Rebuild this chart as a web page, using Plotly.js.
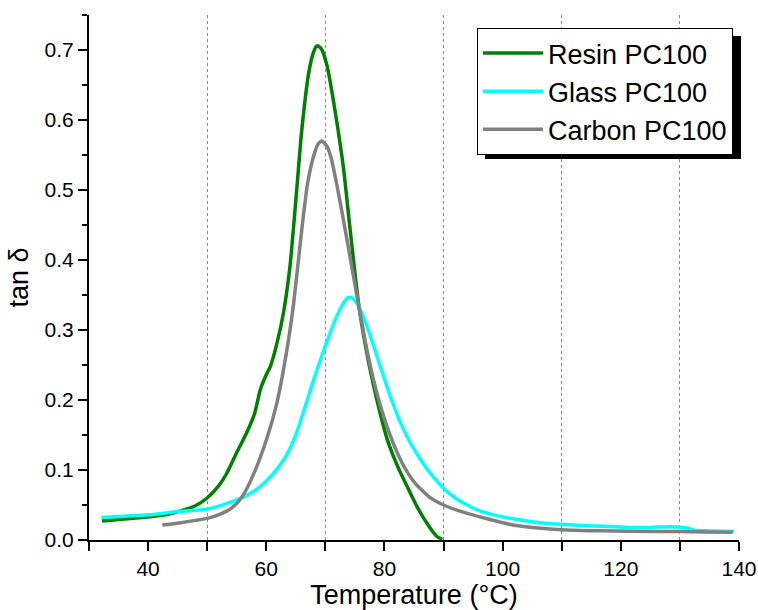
<!DOCTYPE html>
<html>
<head>
<meta charset="utf-8">
<script src="https://cdn.plot.ly/plotly-3.0.1.min.js"></script>
<style>html,body{margin:0;padding:0;background:#fff;}</style>
</head>
<body>
<div id="chart" style="width:758px;height:610px;"></div>
<script>
const seriesNames = ["Resin PC100", "Glass PC100", "Carbon PC100"];

const resinT = [32.2, 36, 40, 43, 46, 48, 50, 52, 53.3, 55, 56.5, 58, 59, 60, 60.7, 61.8, 62.9, 64, 65, 66, 67.2, 68, 68.6, 69.3, 70.3, 71.7, 73.1, 74.2, 75.6, 76.8, 78.2, 79.3, 80.5, 81.5, 82.5, 83.3, 84.5, 85.5, 86.3, 87.2, 88, 88.9, 89.8];
const resinY = [0.027, 0.030, 0.033, 0.036, 0.043, 0.049, 0.060, 0.078, 0.095, 0.125, 0.150, 0.180, 0.215, 0.236, 0.248, 0.281, 0.324, 0.390, 0.485, 0.585, 0.668, 0.697, 0.706, 0.702, 0.677, 0.610, 0.529, 0.443, 0.339, 0.277, 0.219, 0.180, 0.143, 0.120, 0.100, 0.086, 0.065, 0.048, 0.036, 0.024, 0.014, 0.005, 0.001];

const glassT = [32.1, 36, 40.1, 45.4, 49.9, 53.3, 56, 58, 60, 62, 63.5, 65, 66.5, 68, 69.5, 71, 72.3, 73.2, 73.8, 74.5, 75.3, 76.5, 78, 79.5, 81, 82.5, 84, 85.5, 87, 88.5, 90, 92, 94, 96, 98, 100, 102, 106, 110.4, 115, 118.9, 122, 125, 128.5, 130.5, 131.3, 132.4, 135, 139.2];
const glassY = [0.032, 0.034, 0.036, 0.041, 0.044, 0.052, 0.061, 0.070, 0.084, 0.103, 0.122, 0.150, 0.188, 0.228, 0.265, 0.300, 0.326, 0.340, 0.346, 0.346, 0.339, 0.318, 0.282, 0.243, 0.205, 0.172, 0.145, 0.123, 0.104, 0.088, 0.074, 0.060, 0.050, 0.042, 0.037, 0.033, 0.030, 0.025, 0.022, 0.020, 0.019, 0.018, 0.018, 0.019, 0.018, 0.017, 0.014, 0.013, 0.012];

const carbonT = [42.4, 45, 48, 50.5, 52.5, 54.2, 56, 57.8, 60.1, 61.8, 63.5, 64.6, 66, 67, 68, 68.8, 69.4, 70.3, 71, 72, 73, 74, 75, 76, 77, 78, 79, 80, 81.5, 83, 85, 87.5, 90, 94, 98, 102, 106, 110, 115, 118.9, 125, 130.2, 134, 138.9];
const carbonY = [0.0215, 0.024, 0.028, 0.032, 0.038, 0.046, 0.063, 0.093, 0.145, 0.196, 0.272, 0.336, 0.443, 0.510, 0.548, 0.566, 0.570, 0.562, 0.545, 0.505, 0.460, 0.413, 0.365, 0.318, 0.273, 0.234, 0.201, 0.173, 0.138, 0.110, 0.083, 0.062, 0.050, 0.038, 0.029, 0.021, 0.017, 0.0145, 0.0133, 0.0129, 0.0123, 0.012, 0.0115, 0.011];

const colors = ["#008000", "#00FFFF", "#808080"];
const FONT = "Liberation Sans, Arial, sans-serif";

const traces = [
  {x: resinT, y: resinY, name: seriesNames[0]},
  {x: glassT, y: glassY, name: seriesNames[1]},
  {x: carbonT, y: carbonY, name: seriesNames[2]}
].map((t, i) => Object.assign(t, {
  type: "scatter", mode: "lines",
  line: {color: colors[i], width: 3.5, shape: "spline", smoothing: 0.6}
}));

const layout = {
  width: 758, height: 610,
  margin: {l: 89, r: 19, t: 15, b: 70},
  paper_bgcolor: "#ffffff", plot_bgcolor: "#ffffff",
  font: {family: FONT, color: "#000", size: 21},
  showlegend: true,
  legend: {
    x: (477 - 89) / 650, y: (540 - 28) / 525, xanchor: "left", yanchor: "top",
    bgcolor: "#ffffff", bordercolor: "#000", borderwidth: 1,
    font: {family: FONT, size: 27, color: "#000"},
    itemwidth: 60, tracegroupgap: 0
  },
  xaxis: {
    range: [30, 140], tick0: 0, dtick: 20,
    ticks: "outside", ticklen: 9, tickwidth: 2, tickcolor: "#000",
    showline: true, linewidth: 2, linecolor: "#000",
    showgrid: false, zeroline: false,
    tickfont: {family: FONT, size: 21},
    minor: {dtick: 10, tick0: 0, ticks: "outside", ticklen: 9, tickwidth: 2, tickcolor: "#000",
            showgrid: true, gridcolor: "#8a8a8a", griddash: "dot", gridwidth: 1},
    title: {text: "Temperature (°C)", font: {family: FONT, size: 27}, standoff: 5},
    automargin: false
  },
  yaxis: {
    range: [0, 0.75], tick0: 0, dtick: 0.1, tickformat: ".1f",
    ticks: "outside", ticklen: 9, tickwidth: 2, tickcolor: "#000",
    showline: true, linewidth: 2, linecolor: "#000",
    showgrid: false, zeroline: false,
    tickfont: {family: FONT, size: 21},
    minor: {dtick: 0.05, ticks: "outside", ticklen: 5, tickwidth: 2, tickcolor: "#000", showgrid: false},
    title: {text: "tan δ", font: {family: FONT, size: 27}, standoff: 8},
    automargin: false
  },
  shapes: [{
    type: "rect", xref: "paper", yref: "paper", layer: "above",
    x0: (485 - 89) / 650, x1: (741 - 89) / 650,
    y0: (540 - 159) / 525, y1: (540 - 36) / 525,
    fillcolor: "#000", line: {width: 0}
  }]
};

Plotly.newPlot("chart", traces, layout, {displayModeBar: false, staticPlot: true});
</script>
</body>
</html>
